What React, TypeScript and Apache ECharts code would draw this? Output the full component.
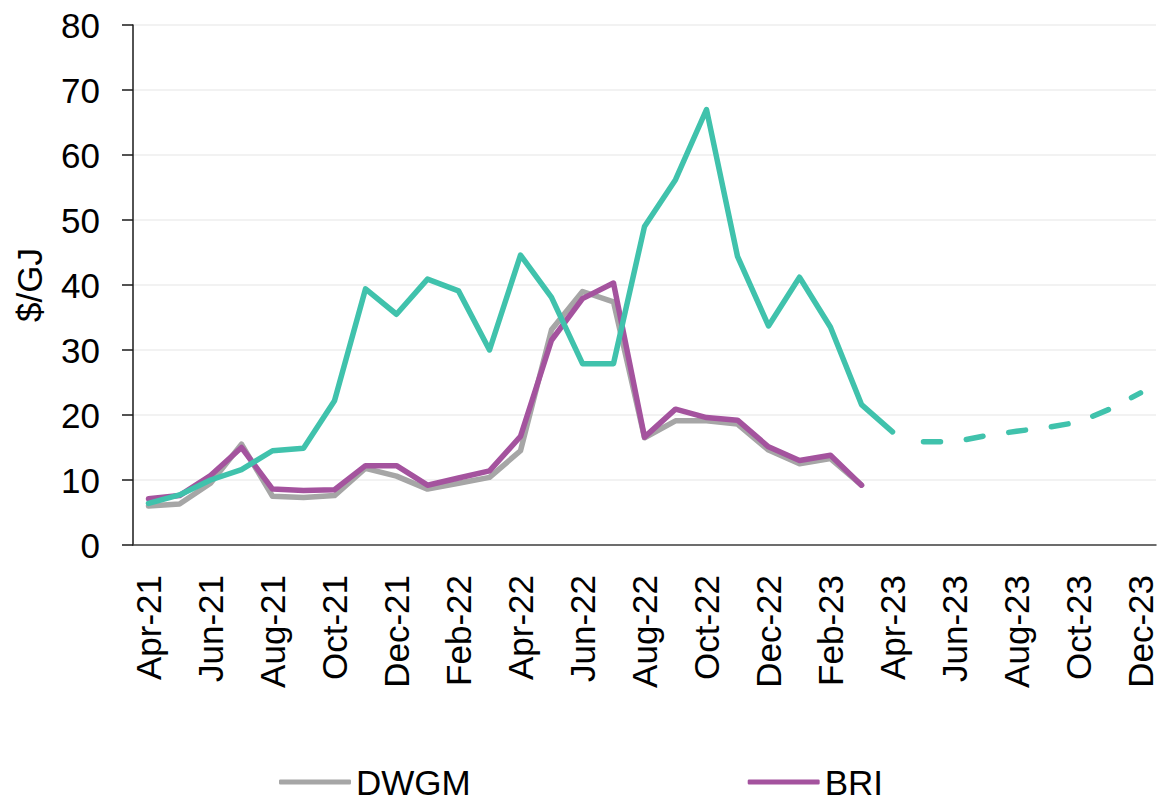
import React, { useEffect, useRef } from "react";
import * as echarts from "echarts";

const months = [
  "Apr-21", "May-21", "Jun-21", "Jul-21", "Aug-21", "Sep-21", "Oct-21", "Nov-21", "Dec-21",
  "Jan-22", "Feb-22", "Mar-22", "Apr-22", "May-22", "Jun-22", "Jul-22", "Aug-22", "Sep-22",
  "Oct-22", "Nov-22", "Dec-22", "Jan-23", "Feb-23", "Mar-23", "Apr-23", "May-23", "Jun-23",
  "Jul-23", "Aug-23", "Sep-23", "Oct-23", "Nov-23", "Dec-23",
];

const dwgm = [
  6.0, 6.3, 9.5, 15.5, 7.5, 7.3, 7.6, 11.8, 10.6, 8.6, 9.5, 10.4, 14.5, 33.1, 39.0, 37.4,
  16.5, 19.1, 19.1, 18.6, 14.6, 12.5, 13.3, 9.2,
];

const bri = [
  7.1, 7.6, 10.7, 15.0, 8.6, 8.4, 8.5, 12.2, 12.2, 9.2, 10.3, 11.4, 16.7, 31.5, 37.9, 40.3,
  16.6, 20.9, 19.6, 19.2, 15.1, 13.0, 13.8, 9.2,
];

const lngActual = [
  6.4, 7.7, 10.0, 11.6, 14.5, 14.9, 22.2, 39.4, 35.5, 40.9, 39.1, 30.0, 44.6, 38.1, 27.9,
  27.9, 49.0, 56.2, 67.0, 44.4, 33.7, 41.2, 33.5, 21.6, 17.4,
];

const lngForecastStart = 25;
const lngForecast = [15.9, 15.9, 16.8, 17.5, 18.1, 18.9, 20.9, 23.4];

const yTicks = { min: 0, max: 80, interval: 10 };

const FONT = "'Liberation Sans', Arial, sans-serif";

export default function App() {
  const ref = useRef<HTMLDivElement>(null);

  useEffect(() => {
    if (!ref.current) return;
    const chart = echarts.init(ref.current, undefined, { renderer: "svg" });

    const pad = (arr: number[]) => months.map((_, i) => (i < arr.length ? arr[i] : null));
    const forecastData = months.map((_, i) =>
      i >= lngForecastStart ? lngForecast[i - lngForecastStart] : null
    );

    const LW = 5.5;

    const mk = (name: string, data: (number | null)[], color: string, z: number, dashed = false) => ({
      name,
      type: "line",
      data,
      symbol: "none",
      showSymbol: false,
      itemStyle: { color },
      lineStyle: {
        color,
        width: LW,
        type: dashed ? [17, 26] : "solid",
        cap: "round",
        join: "round",
      },
      emphasis: { disabled: true },
      z,
    });

    chart.setOption({
      animation: false,
      backgroundColor: "#ffffff",
      textStyle: { fontFamily: FONT },
      grid: { left: 133, right: 2, top: 25, bottom: 254, containLabel: false },
      legend: {
        data: ["DWGM", "BRI"],
        left: 274,
        top: 759,
        icon: "roundRect",
        itemWidth: 72,
        itemHeight: 5,
        itemGap: 277,
        textStyle: { fontSize: 35, color: "#000000", fontFamily: FONT, lineHeight: 36 },
      },
      xAxis: {
        type: "category",
        data: months,
        boundaryGap: true,
        axisLine: { lineStyle: { color: "#404040", width: 1.5 } },
        axisTick: { interval: 1, length: 10, lineStyle: { color: "#404040", width: 1.5 } },
        axisLabel: {
          interval: 1,
          rotate: 90,
          margin: 30,
          fontSize: 35,
          lineHeight: 30,
          color: "#000000",
          fontFamily: FONT,
        },
        splitLine: { show: false },
      },
      yAxis: {
        type: "value",
        min: yTicks.min,
        max: yTicks.max,
        interval: yTicks.interval,
        name: "$/GJ",
        nameLocation: "middle",
        nameRotate: 90,
        nameGap: 86,
        nameTextStyle: { fontSize: 35, color: "#000000", fontFamily: FONT },
        axisLine: { show: true, lineStyle: { color: "#1a1a1a", width: 1.5 } },
        axisTick: { show: true, inside: false, length: 11, lineStyle: { color: "#1a1a1a", width: 1.5 } },
        axisLabel: { margin: 33, fontSize: 35, color: "#000000", fontFamily: FONT },
        splitLine: { show: true, lineStyle: { color: "#EEEEEE", width: 1.5 } },
      },
      series: [
        mk("DWGM", pad(dwgm), "#A6A6A6", 2),
        mk("BRI", pad(bri), "#A4539E", 3),
        mk("LNG", pad(lngActual), "#40C2AC", 4),
        mk("LNG forecast", forecastData, "#40C2AC", 4, true),
      ],
    });

    return () => chart.dispose();
  }, []);

  return (
    <div
      ref={ref}
      style={{ position: "fixed", left: 0, top: 0, width: 1158, height: 799, background: "#fff" }}
    />
  );
}
